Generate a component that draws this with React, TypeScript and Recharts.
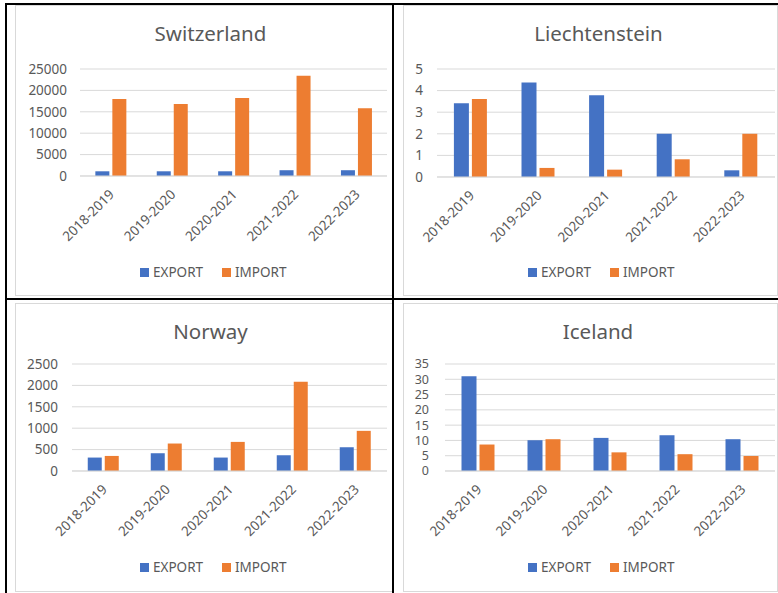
import { Bar, BarChart, CartesianGrid, Legend, XAxis, YAxis } from "recharts";

const categories = ["2018-2019", "2019-2020", "2020-2021", "2021-2022", "2022-2023"];

const switzerlandExport = [1100, 1100, 1100, 1350, 1350];
const switzerlandImport = [18000, 16800, 18200, 23400, 15850];
const switzerlandTicks = [0, 5000, 10000, 15000, 20000, 25000];

const liechtensteinExport = [3.41, 4.38, 3.78, 2.0, 0.31];
const liechtensteinImport = [3.61, 0.42, 0.34, 0.82, 2.0];
const liechtensteinTicks = [0, 1, 2, 3, 4, 5];

const norwayExport = [314, 415, 314, 368, 555];
const norwayImport = [352, 642, 680, 2086, 938];
const norwayTicks = [0, 500, 1000, 1500, 2000, 2500];

const icelandExport = [31, 10.07, 10.83, 11.7, 10.4];
const icelandImport = [8.66, 10.4, 6.1, 5.5, 4.9];
const icelandTicks = [0, 5, 10, 15, 20, 25, 30, 35];

const BLUE = "#4472C4";
const ORANGE = "#ED7D31";
const TEXT = "#595959";
const GRID = "#d9d9d9";
const FONT = "'Noto Sans', 'Open Sans', sans-serif";

const toRows = (exp: number[], imp: number[]) =>
  categories.map((name, i) => ({ name, EXPORT: exp[i], IMPORT: imp[i] }));

const AngledTick = (props: any) => {
  const { x, y, payload } = props;
  return (
    <g transform={`translate(${x + 1},${y + 8})`}>
      <text textAnchor="end" dy="0.35em" fill={TEXT} fontSize={13.5} transform="rotate(-45)">
        {payload.value}
      </text>
    </g>
  );
};

const LegendBox = () => (
  <div style={{ display: "flex", alignItems: "center", height: 20, fontSize: 13.5, color: TEXT, fontFamily: FONT, whiteSpace: "nowrap" }}>
    <span style={{ width: 9, height: 9, background: BLUE, marginRight: 4 }} />
    <span style={{ marginRight: 19 }}>EXPORT</span>
    <span style={{ width: 9, height: 9, background: ORANGE, marginRight: 4 }} />
    <span>IMPORT</span>
  </div>
);

type Panel = {
  title: string;
  left: number;
  top: number;
  width: number;
  height: number;
  titleX: number;
  exp: number[];
  imp: number[];
  ticks: number[];
  marginTop: number;
  marginRight: number;
  marginBottom: number;
  yWidth: number;
  xHeight: number;
  tickMargin: number;
  tickFont: number;
};

const panels: Panel[] = [
  { title: "Switzerland", left: 15, top: 5, width: 378, height: 291, titleX: 210.5, exp: switzerlandExport, imp: switzerlandImport, ticks: switzerlandTicks, marginTop: 64, marginRight: 6, marginBottom: 14, yWidth: 65, xHeight: 86, tickMargin: 7, tickFont: 13.5 },
  { title: "Liechtenstein", left: 403, top: 5, width: 375, height: 291, titleX: 598.5, exp: liechtensteinExport, imp: liechtensteinImport, ticks: liechtensteinTicks, marginTop: 64, marginRight: 3, marginBottom: 14, yWidth: 34, xHeight: 85, tickMargin: 8, tickFont: 13.5 },
  { title: "Norway", left: 15, top: 303, width: 378, height: 289, titleX: 210.5, exp: norwayExport, imp: norwayImport, ticks: norwayTicks, marginTop: 61, marginRight: 6, marginBottom: 15, yWidth: 57, xHeight: 86, tickMargin: 8, tickFont: 13.5 },
  { title: "Iceland", left: 403, top: 303, width: 375, height: 289, titleX: 598, exp: icelandExport, imp: icelandImport, ticks: icelandTicks, marginTop: 61, marginRight: 3, marginBottom: 15, yWidth: 42, xHeight: 86, tickMargin: 10, tickFont: 12.5 },
];

function CountryChart({ p }: { p: Panel }) {
  const max = p.ticks[p.ticks.length - 1];
  return (
    <>
      <div style={{ position: "absolute", left: p.left, top: p.top, width: p.width - 2, height: p.height - 2, border: `1px solid ${GRID}` }} />
      <div style={{ position: "absolute", left: p.titleX - 100, top: p.top + 16, width: 200, height: 24, lineHeight: "24px", textAlign: "center", fontSize: 20.5, color: TEXT, fontFamily: FONT }}>
        {p.title}
      </div>
      <div style={{ position: "absolute", left: p.left, top: p.top, fontFamily: FONT }}>
        <BarChart
          width={p.width}
          height={p.height}
          data={toRows(p.exp, p.imp)}
          margin={{ top: p.marginTop, right: p.marginRight, left: 0, bottom: p.marginBottom }}
          barCategoryGap="25%"
          barGap={3}
        >
          <CartesianGrid vertical={false} stroke={GRID} />
          <XAxis dataKey="name" axisLine={{ stroke: GRID }} tickLine={false} height={p.xHeight} interval={0} tick={<AngledTick />} />
          <YAxis
            width={p.yWidth}
            domain={[0, max]}
            ticks={p.ticks}
            interval={0}
            axisLine={false}
            tickLine={false}
            tickMargin={p.tickMargin}
            tick={{ fill: TEXT, fontSize: p.tickFont }}
          />
          <Legend verticalAlign="bottom" content={<LegendBox />} wrapperStyle={{ left: 125, width: "auto" }} />
          <Bar dataKey="EXPORT" fill={BLUE} isAnimationActive={false} />
          <Bar dataKey="IMPORT" fill={ORANGE} isAnimationActive={false} />
        </BarChart>
      </div>
    </>
  );
}

export default function App() {
  return (
    <div style={{ position: "absolute", left: 0, top: 0, width: 778, height: 593, background: "#fff", overflow: "hidden" }}>
      {panels.map((p) => (
        <CountryChart key={p.title} p={p} />
      ))}
      <div style={{ position: "absolute", left: 5, top: 3, width: 2, height: 590, background: "#000" }} />
      <div style={{ position: "absolute", left: 5, top: 3, width: 773, height: 2, background: "#000" }} />
      <div style={{ position: "absolute", left: 392, top: 3, width: 2, height: 590, background: "#000" }} />
      <div style={{ position: "absolute", left: 5, top: 298, width: 773, height: 2, background: "#000" }} />
    </div>
  );
}
